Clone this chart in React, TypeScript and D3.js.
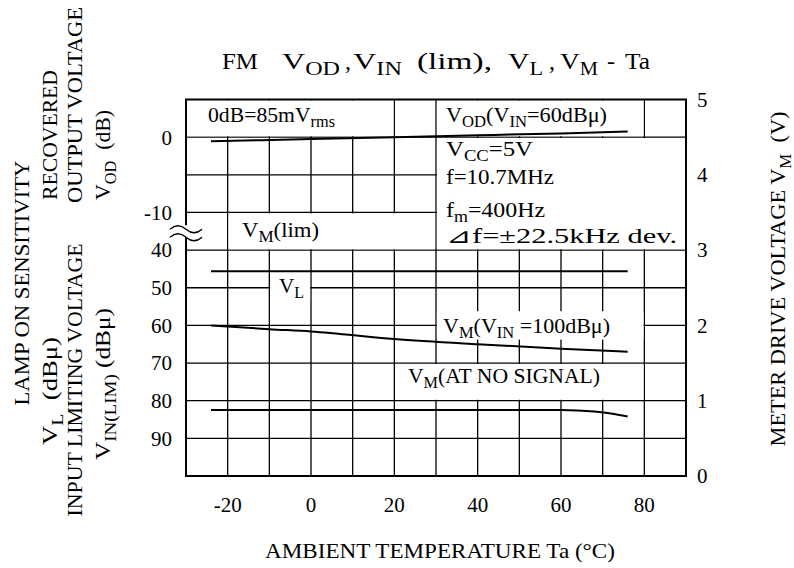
import React from 'react';
import * as d3 from 'd3';

// temperature axis
const tempTicks = [-20, 0, 20, 40, 60, 80];
const gridTemps = [-20, -10, 0, 10, 20, 30, 40, 50, 60, 70, 80];
// right axis (meter drive voltage)
const voltTicks = [0, 1, 2, 3, 4, 5];
const gridVolts = [0.5, 1, 1.5, 2, 2.5, 3, 3.5, 4, 4.5];
// left axis, upper part (dB) and lower part (dBμ)
const dbTicks = [0, -10];
const dbuTicks = [40, 50, 60, 70, 80, 90];

// V_OD (V_IN = 60dBμ), dB
const vodTemp = [-24, 0, 20, 40, 60, 76];
const vodDb = [-0.55, -0.25, 0, 0.25, 0.5, 0.75];
// V_L / V_M(lim), dBμ
const vlTemp = [-24, 76];
const vlDbu = [45.6, 45.6];
// V_M (V_IN = 100dBμ), V
const vm100Temp = [-24, -10, 0, 20, 40, 60, 76];
const vm100Volt = [2.0, 1.95, 1.92, 1.82, 1.75, 1.69, 1.65];
// V_M (at no signal), V
const vmNoSigTemp = [-24, 0, 20, 40, 60, 64, 68, 72, 76];
const vmNoSigVolt = [0.875, 0.875, 0.875, 0.875, 0.875, 0.87, 0.855, 0.83, 0.79];

const FONT = '"Liberation Serif", "Times New Roman", serif';

type Seg = [string, boolean?];

const Rich: React.FC<{ x: number; y: number; segs: Seg[]; size: number; anchor?: string; transform?: string; dy?: string; len?: number }> = ({ x, y, segs, size, anchor, transform, dy, len }) => {
  let inSub = false;
  const shift = size * 0.24;
  return (
    <text x={x} y={y} dy={dy} fontSize={size} textAnchor={anchor || 'start'} transform={transform}
      fontFamily={FONT} fill="#000" xmlSpace="preserve" style={{ whiteSpace: 'pre' }}
      textLength={len} lengthAdjust={len ? 'spacingAndGlyphs' : undefined}>
      {segs.map(([s, sub], i) => {
        let d = 0;
        if (sub && !inSub) d = shift;
        if (!sub && inSub) d = -shift;
        inSub = !!sub;
        return (
          <tspan key={i} dy={d || undefined} fontSize={sub ? size * 0.75 : size}>{s}</tspan>
        );
      })}
    </text>
  );
};

export default function App() {
  const x = d3.scaleLinear().domain([-30, 90]).range([186, 686]);
  const yV = d3.scaleLinear().domain([0, 5]).range([476, 99.5]);
  const yDb = d3.scaleLinear().domain([5, -10]).range([yV(5), yV(3.5)]);
  const yDbu = d3.scaleLinear().domain([40, 100]).range([yV(3), yV(0)]);

  const line = d3.line<[number, number]>().x(d => d[0]).y(d => d[1]).curve(d3.curveMonotoneX);
  const vodPath = line(vodTemp.map((t, i) => [x(t), yDb(vodDb[i])]));
  const vlPath = line(vlTemp.map((t, i) => [x(t), yDbu(vlDbu[i])]));
  const vm100Path = line(vm100Temp.map((t, i) => [x(t), yV(vm100Volt[i])]));
  const vmNoSigPath = line(vmNoSigTemp.map((t, i) => [x(t), yV(vmNoSigVolt[i])]));

  // white label boxes in data units: [t0, t1, v0, v1]
  const boxes = [
    [-30, 20, 4.5, 5],
    [30, 80, 4.5, 5],
    [30, 90, 3, 4.5],
    [-20, 30, 3, 3.5],
    [-10, 0, 2.31, 2.68],
    [30, 80, 1.8, 2.2],
    [20, 80, 1, 1.5],
  ];

  const [x0, x1] = x.range();
  const [yb, yt] = yV.range();
  const yBreak = (yDb(-10) + yDbu(40)) / 2;

  return (
    <svg width={794} height={568} style={{ position: 'absolute', left: 0, top: 0, background: '#fff' }}>
      <rect x={0} y={0} width={794} height={568} fill="#fff" />
      {/* grid */}
      <g stroke="#000" strokeWidth={1.3}>
        {gridTemps.map(t => <line key={'v' + t} x1={x(t)} x2={x(t)} y1={yt} y2={yb} />)}
        {gridVolts.map(v => <line key={'h' + v} x1={x0} x2={x1} y1={yV(v)} y2={yV(v)} />)}
      </g>
      {boxes.map((b, i) => (
        <rect key={i} x={x(b[0]) + 0.9} y={yV(b[3]) + 0.9} width={x(b[1]) - x(b[0]) - 1.8}
          height={yV(b[2]) - yV(b[3]) - 1.8} fill="#fff" />
      ))}
      <rect x={x0} y={yt} width={x1 - x0} height={yb - yt} fill="none" stroke="#000" strokeWidth={2} />

      {/* axis break */}
      <rect x={x0 - 3} y={yBreak - 6} width={6} height={12} fill="#fff" />
      <g fill="none" stroke="#000" strokeWidth={1.4}>
        <path d={`M${x0 - 16},${yBreak - 2} q8,-7 16,0 t16,0`} />
        <path d={`M${x0 - 16},${yBreak + 6} q8,-7 16,0 t16,0`} />
      </g>

      {/* curves */}
      <g fill="none" stroke="#000" strokeWidth={2}>
        <path d={vodPath || ''} />
        <path d={vlPath || ''} />
        <path d={vm100Path || ''} />
        <path d={vmNoSigPath || ''} />
      </g>

      {/* ticks */}
      <g fontFamily={FONT} fontSize={21} fill="#000">
        {tempTicks.map(t => <text key={t} x={x(t)} y={512} textAnchor="middle">{t}</text>)}
        {dbTicks.map(v => <text key={'d' + v} x={172} y={yDb(v)} dy="0.35em" textAnchor="end">{v}</text>)}
        {dbuTicks.map(v => <text key={'u' + v} x={172} y={yDbu(v)} dy="0.35em" textAnchor="end">{v}</text>)}
        {voltTicks.map(v => <text key={'r' + v} x={697} y={yV(v)} dy="0.35em">{v}</text>)}
      </g>
      <Rich x={265} y={558} size={21} len={350} segs={[['AMBIENT TEMPERATURE Ta (°C)']]} />

      {/* title */}
      <Rich x={222} y={69} size={24} len={36} segs={[['FM']]} />
      <Rich x={282} y={69} size={24} len={58} segs={[['V'], ['OD', true]]} />
      <Rich x={345} y={69} size={24} segs={[[',']]} />
      <Rich x={353} y={69} size={24} len={49} segs={[['V'], ['IN', true]]} />
      <Rich x={417} y={69} size={24} len={75} segs={[['(lim),']]} />
      <Rich x={508} y={69} size={24} len={35} segs={[['V'], ['L', true]]} />
      <Rich x={549} y={69} size={24} segs={[[',']]} />
      <Rich x={560} y={69} size={24} len={38} segs={[['V'], ['M', true]]} />
      <Rich x={607} y={69} size={24} segs={[['-']]} />
      <Rich x={625} y={69} size={24} len={25} segs={[['Ta']]} />

      {/* left axis titles */}
      <Rich x={0} y={0} size={22} anchor="middle" dy="0.34em" len={245} transform="translate(22,283) rotate(-90)"
        segs={[['LAMP ON SENSITIVITY']]} />
      <Rich x={0} y={0} size={22} anchor="middle" dy="0.34em" len={130} transform="translate(50,135) rotate(-90)"
        segs={[['RECOVERED']]} />
      <Rich x={0} y={0} size={22} anchor="middle" dy="0.34em" len={108} transform="translate(50,391) rotate(-90)"
        segs={[['V'], ['L', true], ['  (dBμ)']]} />
      <Rich x={0} y={0} size={22} anchor="middle" dy="0.34em" len={196} transform="translate(75,105) rotate(-90)"
        segs={[['OUTPUT VOLTAGE']]} />
      <Rich x={0} y={0} size={22} anchor="middle" dy="0.34em" len={273} transform="translate(75,380) rotate(-90)"
        segs={[['INPUT LIMITING VOLTAGE']]} />
      <Rich x={0} y={0} size={22} anchor="middle" dy="0.34em" len={90} transform="translate(103,155) rotate(-90)"
        segs={[['V'], ['OD', true], ['  (dB)']]} />
      <Rich x={0} y={0} size={22} anchor="middle" dy="0.34em" len={152} transform="translate(103,384) rotate(-90)"
        segs={[['V'], ['IN(LIM)', true], [' (dBμ)']]} />

      {/* right axis title */}
      <Rich x={0} y={0} size={22} anchor="middle" dy="0.34em" len={335} transform="translate(778,279) rotate(-90)"
        segs={[['METER DRIVE VOLTAGE V'], ['M', true], ['  (V)']]} />

      {/* annotations */}
      <Rich x={208} y={122} size={21} len={127} segs={[['0dB=85mV'], ['rms', true]]} />
      <Rich x={446} y={122} size={21} len={161} segs={[['V'], ['OD', true], ['(V'], ['IN', true], ['=60dBμ)']]} />
      <Rich x={446} y={156} size={21} len={87} segs={[['V'], ['CC', true], ['=5V']]} />
      <Rich x={446} y={184} size={21} len={108} segs={[['f=10.7MHz']]} />
      <Rich x={446} y={217} size={21} len={99} segs={[['f'], ['m', true], ['=400Hz']]} />
      <Rich x={446} y={243} size={21} len={231} segs={[['⊿f=±22.5kHz dev.']]} />
      <Rich x={242} y={237} size={21} len={77} segs={[['V'], ['M', true], ['(lim)']]} />
      <Rich x={279} y={293} size={21} len={25} segs={[['V'], ['L', true]]} />
      <Rich x={443} y={333} size={21} len={167} segs={[['V'], ['M', true], ['(V'], ['IN', true], [' =100dBμ)']]} />
      <Rich x={408} y={383} size={21} len={192} segs={[['V'], ['M', true], ['(AT NO SIGNAL)']]} />
    </svg>
  );
}
